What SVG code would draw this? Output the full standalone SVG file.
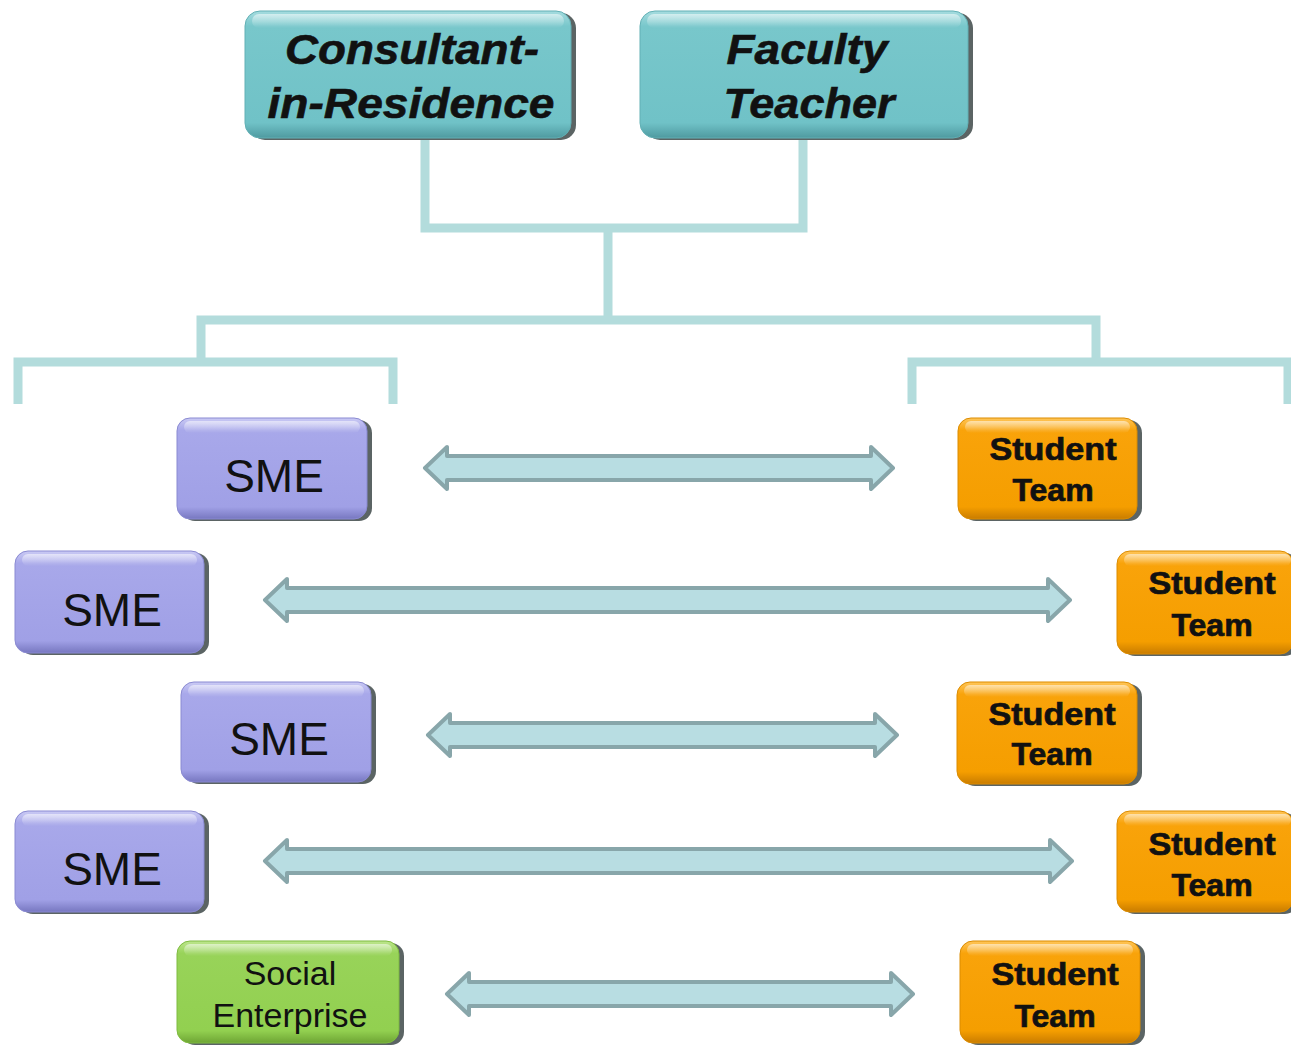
<svg xmlns="http://www.w3.org/2000/svg" width="1291" height="1049" viewBox="0 0 1291 1049">
  <defs>
    <linearGradient id="gTeal" x1="0" y1="0" x2="0" y2="1">
      <stop offset="0" stop-color="#a6dcdf"/>
      <stop offset="0.12" stop-color="#78c7cb"/>
      <stop offset="0.88" stop-color="#70c2c7"/>
      <stop offset="1" stop-color="#4f9aa0"/>
    </linearGradient>
    <linearGradient id="gPurple" x1="0" y1="0" x2="0" y2="1">
      <stop offset="0" stop-color="#cacaf4"/>
      <stop offset="0.12" stop-color="#a8a8ea"/>
      <stop offset="0.88" stop-color="#a0a0e6"/>
      <stop offset="1" stop-color="#7777c0"/>
    </linearGradient>
    <linearGradient id="gOrange" x1="0" y1="0" x2="0" y2="1">
      <stop offset="0" stop-color="#ffc65a"/>
      <stop offset="0.12" stop-color="#f9a30a"/>
      <stop offset="0.88" stop-color="#f59e00"/>
      <stop offset="1" stop-color="#c97c00"/>
    </linearGradient>
    <linearGradient id="gGreen" x1="0" y1="0" x2="0" y2="1">
      <stop offset="0" stop-color="#bde68e"/>
      <stop offset="0.12" stop-color="#98d359"/>
      <stop offset="0.88" stop-color="#92d050"/>
      <stop offset="1" stop-color="#6ea534"/>
    </linearGradient>
    <linearGradient id="gShine" x1="0" y1="0" x2="0" y2="1">
      <stop offset="0" stop-color="#ffffff" stop-opacity="0.55"/>
      <stop offset="1" stop-color="#ffffff" stop-opacity="0"/>
    </linearGradient>
  </defs>
  <style>
    .link { fill: none; stroke: #b3dcdc; stroke-width: 9; stroke-linecap: butt; stroke-linejoin: miter; }
    .arrow { fill: #b8dde2; stroke: #88a6aa; stroke-width: 4; stroke-linejoin: round; }
    .shadow { fill: #243030; opacity: 0.75; }
    .shine { fill: url(#gShine); }
    .teal { fill: url(#gTeal); stroke: #62b0b5; stroke-width: 1; }
    .purple { fill: url(#gPurple); stroke: #8a8ad2; stroke-width: 1; }
    .orange { fill: url(#gOrange); stroke: #dc8c00; stroke-width: 1; }
    .green { fill: url(#gGreen); stroke: #7fbb40; stroke-width: 1; }
    .lead { font-family: "Liberation Sans", Arial, sans-serif; font-weight: bold; font-style: italic; font-size: 42px; fill: #111; stroke: #111; stroke-width: 0.6; text-anchor: middle; }
    .sme { font-family: "Liberation Sans", Arial, sans-serif; font-size: 46px; fill: #111; text-anchor: middle; }
    .team { font-family: "Liberation Sans", Arial, sans-serif; font-weight: bold; font-size: 32px; fill: #111; stroke: #111; stroke-width: 0.7; text-anchor: middle; }
    .soc { font-family: "Liberation Sans", Arial, sans-serif; font-size: 34px; fill: #111; text-anchor: middle; }
  </style>

  <!-- tree lines joining the leads down to both columns -->
  <g id="connectors">
    <path class="link" d="M425,140 V228 H803 V140"/>
    <path class="link" d="M608,228 V320"/>
    <path class="link" d="M201,362 V320 H1096 V362"/>
    <path class="link" d="M18,404 V362 H393 V404"/>
    <path class="link" d="M912,404 V362 H1288 V404"/>
    <!-- two-way arrows between partners -->
    <path class="arrow" d="M425,468 L447,447 L447,456 L871,456 L871,447 L893,468 L871,489 L871,480 L447,480 L447,489 Z"/>
    <path class="arrow" d="M265,600 L287,579 L287,588 L1048,588 L1048,579 L1070,600 L1048,621 L1048,612 L287,612 L287,621 Z"/>
    <path class="arrow" d="M428,735 L450,714 L450,723 L875,723 L875,714 L897,735 L875,756 L875,747 L450,747 L450,756 Z"/>
    <path class="arrow" d="M265,861 L287,840 L287,849 L1050,849 L1050,840 L1072,861 L1050,882 L1050,873 L287,873 L287,882 Z"/>
    <path class="arrow" d="M447,994 L469,973 L469,982 L891,982 L891,973 L913,994 L891,1015 L891,1006 L469,1006 L469,1015 Z"/>
  </g>

  <g id="consultant">
    <rect class="shadow" x="250" y="13" width="326" height="127" rx="15"/>
    <rect class="teal" x="245" y="11" width="326" height="127" rx="15"/>
    <rect class="shine" x="252" y="14" width="312" height="14" rx="7"/>
    <text class="lead" x="412" y="64" textLength="254" lengthAdjust="spacingAndGlyphs">Consultant-</text>
    <text class="lead" x="411" y="118" textLength="287" lengthAdjust="spacingAndGlyphs">in-Residence</text>
  </g>
  <g id="faculty">
    <rect class="shadow" x="645" y="13" width="328" height="127" rx="15"/>
    <rect class="teal" x="640" y="11" width="328" height="127" rx="15"/>
    <rect class="shine" x="647" y="14" width="314" height="14" rx="7"/>
    <text class="lead" x="807" y="64" textLength="161" lengthAdjust="spacingAndGlyphs">Faculty</text>
    <text class="lead" x="809" y="118" textLength="171" lengthAdjust="spacingAndGlyphs">Teacher</text>
  </g>

  <g id="sme1">
    <rect class="shadow" x="182" y="420" width="190" height="101" rx="13"/>
    <rect class="purple" x="177" y="418" width="190" height="101" rx="13"/>
    <rect class="shine" x="184" y="421" width="176" height="12" rx="6"/>
    <text class="sme" x="274" y="492">SME</text>
  </g>
  <g id="sme2">
    <rect class="shadow" x="20" y="553" width="189" height="102" rx="13"/>
    <rect class="purple" x="15" y="551" width="189" height="102" rx="13"/>
    <rect class="shine" x="22" y="554" width="175" height="12" rx="6"/>
    <text class="sme" x="112" y="626">SME</text>
  </g>
  <g id="sme3">
    <rect class="shadow" x="186" y="684" width="190" height="100" rx="13"/>
    <rect class="purple" x="181" y="682" width="190" height="100" rx="13"/>
    <rect class="shine" x="188" y="685" width="176" height="12" rx="6"/>
    <text class="sme" x="279" y="755">SME</text>
  </g>
  <g id="sme4">
    <rect class="shadow" x="20" y="813" width="189" height="101" rx="13"/>
    <rect class="purple" x="15" y="811" width="189" height="101" rx="13"/>
    <rect class="shine" x="22" y="814" width="175" height="12" rx="6"/>
    <text class="sme" x="112" y="885">SME</text>
  </g>
  <g id="social-enterprise">
    <rect class="shadow" x="182" y="943" width="222" height="102" rx="13"/>
    <rect class="green" x="177" y="941" width="222" height="102" rx="13"/>
    <rect class="shine" x="184" y="944" width="208" height="12" rx="6"/>
    <text class="soc" x="290" y="985">Social</text>
    <text class="soc" x="290" y="1027">Enterprise</text>
  </g>

  <g id="team1">
    <rect class="shadow" x="963" y="420" width="179" height="101" rx="13"/>
    <rect class="orange" x="958" y="418" width="179" height="101" rx="13"/>
    <rect class="shine" x="965" y="421" width="165" height="12" rx="6"/>
    <text class="team" x="1053" y="460" textLength="127" lengthAdjust="spacingAndGlyphs">Student</text>
    <text class="team" x="1053" y="501">Team</text>
  </g>
  <g id="team2">
    <rect class="shadow" x="1122" y="553" width="176" height="103" rx="13"/>
    <rect class="orange" x="1117" y="551" width="176" height="103" rx="13"/>
    <rect class="shine" x="1124" y="554" width="167" height="12" rx="6"/>
    <text class="team" x="1212" y="594" textLength="127" lengthAdjust="spacingAndGlyphs">Student</text>
    <text class="team" x="1212" y="636">Team</text>
  </g>
  <g id="team3">
    <rect class="shadow" x="962" y="684" width="180" height="102" rx="13"/>
    <rect class="orange" x="957" y="682" width="180" height="102" rx="13"/>
    <rect class="shine" x="964" y="685" width="166" height="12" rx="6"/>
    <text class="team" x="1052" y="725" textLength="127" lengthAdjust="spacingAndGlyphs">Student</text>
    <text class="team" x="1052" y="765">Team</text>
  </g>
  <g id="team4">
    <rect class="shadow" x="1122" y="813" width="176" height="101" rx="13"/>
    <rect class="orange" x="1117" y="811" width="176" height="101" rx="13"/>
    <rect class="shine" x="1124" y="814" width="167" height="12" rx="6"/>
    <text class="team" x="1212" y="855" textLength="127" lengthAdjust="spacingAndGlyphs">Student</text>
    <text class="team" x="1212" y="896">Team</text>
  </g>
  <g id="team5">
    <rect class="shadow" x="965" y="943" width="180" height="102" rx="13"/>
    <rect class="orange" x="960" y="941" width="180" height="102" rx="13"/>
    <rect class="shine" x="967" y="944" width="166" height="12" rx="6"/>
    <text class="team" x="1055" y="985" textLength="127" lengthAdjust="spacingAndGlyphs">Student</text>
    <text class="team" x="1055" y="1027">Team</text>
  </g>
</svg>
